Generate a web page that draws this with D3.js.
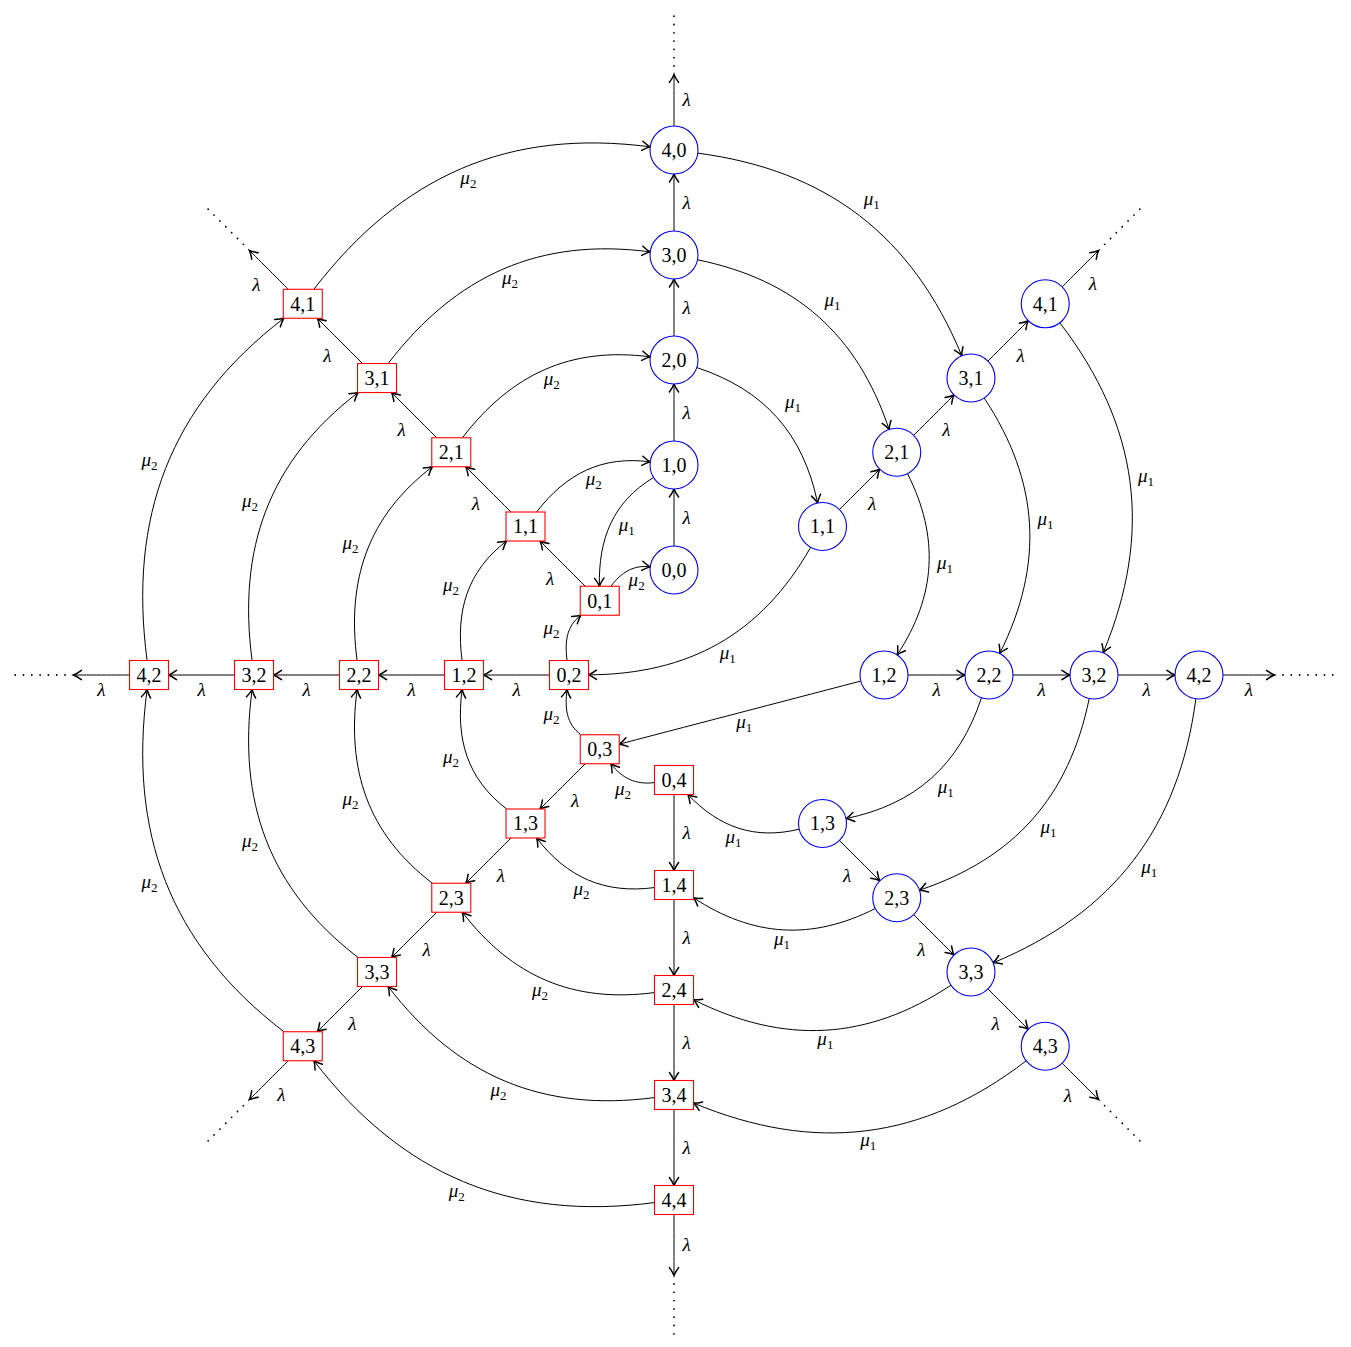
<!DOCTYPE html>
<html>
<head>
<meta charset="utf-8">
<script src="https://cdn.jsdelivr.net/npm/d3@7"></script>
<style>
  body { margin: 0; background: #fff; }
  text { font-family: "Liberation Serif", "DejaVu Serif", serif; }
</style>
</head>
<body>
<svg id="chart" width="1351" height="1347"></svg>
<script>
/* toestanden: blauw = cirkel, rood = vierkant */
var blueStates = ["0,0", "1,0", "2,0", "3,0", "4,0",
                  "1,1", "2,1", "3,1", "4,1",
                  "1,2", "2,2", "3,2", "4,2",
                  "1,3", "2,3", "3,3", "4,3"];
var redStates = ["0,1", "1,1", "2,1", "3,1", "4,1",
                 "0,2", "1,2", "2,2", "3,2", "4,2",
                 "0,3", "1,3", "2,3", "3,3", "4,3",
                 "0,4", "1,4", "2,4", "3,4", "4,4"];

/* lambda overgangen (rechte pijlen) */
var lambdaEdges = [
  ["b0,0", "b1,0"], ["b1,0", "b2,0"], ["b2,0", "b3,0"], ["b3,0", "b4,0"],
  ["b1,1", "b2,1"], ["b2,1", "b3,1"], ["b3,1", "b4,1"],
  ["b1,2", "b2,2"], ["b2,2", "b3,2"], ["b3,2", "b4,2"],
  ["b1,3", "b2,3"], ["b2,3", "b3,3"], ["b3,3", "b4,3"],
  ["r0,1", "r1,1"], ["r1,1", "r2,1"], ["r2,1", "r3,1"], ["r3,1", "r4,1"],
  ["r0,2", "r1,2"], ["r1,2", "r2,2"], ["r2,2", "r3,2"], ["r3,2", "r4,2"],
  ["r0,3", "r1,3"], ["r1,3", "r2,3"], ["r2,3", "r3,3"], ["r3,3", "r4,3"],
  ["r0,4", "r1,4"], ["r1,4", "r2,4"], ["r2,4", "r3,4"], ["r3,4", "r4,4"]
];
/* lambda naar buiten (met puntjes) */
var lambdaOpen = ["b4,0", "b4,1", "b4,2", "b4,3", "r4,1", "r4,2", "r4,3", "r4,4"];

/* mu1 overgangen */
var mu1Edges = [
  ["b4,0", "b3,1"], ["b3,0", "b2,1"], ["b2,0", "b1,1"], ["b1,0", "r0,1"],
  ["b4,1", "b3,2"], ["b3,1", "b2,2"], ["b2,1", "b1,2"], ["b1,1", "r0,2"],
  ["b4,2", "b3,3"], ["b3,2", "b2,3"], ["b2,2", "b1,3"], ["b1,2", "r0,3"],
  ["b4,3", "r3,4"], ["b3,3", "r2,4"], ["b2,3", "r1,4"], ["b1,3", "r0,4"]
];

/* mu2 overgangen */
var mu2Edges = [
  ["r4,1", "b4,0"], ["r3,1", "b3,0"], ["r2,1", "b2,0"], ["r1,1", "b1,0"], ["r0,1", "b0,0"],
  ["r4,2", "r4,1"], ["r3,2", "r3,1"], ["r2,2", "r2,1"], ["r1,2", "r1,1"], ["r0,2", "r0,1"],
  ["r4,3", "r4,2"], ["r3,3", "r3,2"], ["r2,3", "r2,2"], ["r1,3", "r1,2"], ["r0,3", "r0,2"],
  ["r4,4", "r4,3"], ["r3,4", "r3,3"], ["r2,4", "r2,3"], ["r1,4", "r1,3"], ["r0,4", "r0,3"]
];

var svg = d3.select("#chart");
var cx = 674, cy = 675;

/* straal per niveau en hoek per richting (8 richtingen) */
var rScale = d3.scaleLinear().domain([0, 5]).range([0, 525]);
var aScale = d3.scaleLinear().domain([0, 8]).range([0, 2 * Math.PI]);

var nodeR = 24, boxW = 39, boxH = 29;

svg.append("rect").attr("width", 1351).attr("height", 1347).attr("fill", "#fff");

svg.append("defs").append("marker")
    .attr("id", "arrow")
    .attr("markerUnits", "userSpaceOnUse")
    .attr("viewBox", "-10 -7 12 14")
    .attr("markerWidth", 12)
    .attr("markerHeight", 14)
    .attr("refX", 0)
    .attr("refY", 0)
    .attr("orient", "auto")
  .append("path")
    .attr("d", "M-8,-4.6 Q-3.2,-1.1 0,0 Q-3.2,1.1 -8,4.6")
    .attr("fill", "none")
    .attr("stroke", "#000")
    .attr("stroke-width", 1.5)
    .attr("stroke-linecap", "round");

function makeNode(color, s) {
  var p = s.split(","), k = +p[0], j = +p[1];
  var a = aScale(color == "b" ? j : 8 - j);
  var r = rScale(k + 1);
  return {id: color + s, color: color, label: s, a: a,
          x: cx + r * Math.sin(a), y: cy - r * Math.cos(a)};
}

var nodes = blueStates.map(function(s) { return makeNode("b", s); })
  .concat(redStates.map(function(s) { return makeNode("r", s); }));
var byId = {};
nodes.forEach(function(n) { byId[n.id] = n; });

/* punt op de rand van een knoop in richting th */
function border(n, th) {
  var dx = Math.cos(th), dy = Math.sin(th);
  if (n.color == "b") return [n.x + nodeR * dx, n.y + nodeR * dy];
  var t = Math.min(Math.abs(dx) > 1e-9 ? (boxW / 2) / Math.abs(dx) : 1e9,
                   Math.abs(dy) > 1e-9 ? (boxH / 2) / Math.abs(dy) : 1e9);
  return [n.x + t * dx, n.y + t * dy];
}

/* bocht zoals tikz bend: b > 0 buigt naar links van de rijrichting */
function curve(n1, n2, bendDeg) {
  var b = bendDeg * Math.PI / 180;
  var chord = Math.atan2(n2.y - n1.y, n2.x - n1.x);
  var outA = chord - b, inA = chord + Math.PI + b;
  var p0 = border(n1, outA), p3 = border(n2, inA);
  var d = Math.hypot(p3[0] - p0[0], p3[1] - p0[1]) * 0.3915;
  var p1 = [p0[0] + d * Math.cos(outA), p0[1] + d * Math.sin(outA)];
  var p2 = [p3[0] + d * Math.cos(inA), p3[1] + d * Math.sin(inA)];
  return [p0, p1, p2, p3];
}

function labelPos(c, side, ax, ay) {
  var m = [], t = [];
  for (var i = 0; i < 2; i++) {
    m[i] = (c[0][i] + 3 * c[1][i] + 3 * c[2][i] + c[3][i]) / 8;
    t[i] = 0.75 * (c[1][i] - c[0][i]) + 1.5 * (c[2][i] - c[1][i]) + 0.75 * (c[3][i] - c[2][i]);
  }
  var len = Math.hypot(t[0], t[1]);
  var nx = side * t[1] / len, ny = -side * t[0] / len;
  var s = Math.max(Math.abs(nx), Math.abs(ny));
  return [m[0] + nx / s * ax, m[1] + ny / s * ay];
}

var gEdges = svg.append("g");
var gLabels = svg.append("g");
var gNodes = svg.append("g");

function drawCurve(c) {
  var path = d3.path();
  path.moveTo(c[0][0], c[0][1]);
  path.bezierCurveTo(c[1][0], c[1][1], c[2][0], c[2][1], c[3][0], c[3][1]);
  gEdges.append("path")
    .attr("d", path.toString())
    .attr("fill", "none")
    .attr("stroke", "#000")
    .attr("stroke-width", 1)
    .attr("marker-end", "url(#arrow)");
}

function lambdaLabel(p) {
  gLabels.append("text")
    .attr("x", p[0]).attr("y", p[1] + 6)
    .attr("text-anchor", "middle")
    .attr("font-size", 19)
    .attr("font-style", "italic")
    .text("λ");
}

function muLabel(p, idx) {
  var t = gLabels.append("text")
    .attr("x", p[0]).attr("y", p[1] + 2)
    .attr("text-anchor", "middle")
    .attr("font-size", 19);
  t.append("tspan").attr("font-style", "italic").text("μ");
  t.append("tspan").attr("font-size", 13).attr("dy", 4).text(idx);
}

/* lambda pijlen */
lambdaEdges.forEach(function(e) {
  var n1 = byId[e[0]], n2 = byId[e[1]];
  var c = curve(n1, n2, 0);
  drawCurve(c);
  lambdaLabel(labelPos(c, n1.color == "b" ? -1 : 1, 12.5, 15));
});

lambdaOpen.forEach(function(id) {
  var n = byId[id];
  var ux = Math.sin(n.a), uy = -Math.cos(n.a);
  var th = Math.atan2(uy, ux);
  var p0 = border(n, th);
  var tip = [cx + rScale(5.72) * ux, cy + rScale(5.72) * uy];
  var c = [p0, p0, tip, tip];
  drawCurve(c);
  lambdaLabel(labelPos(c, n.color == "b" ? -1 : 1, 12.5, 15));
  gEdges.append("line")
    .attr("x1", cx + rScale(5.8) * ux).attr("y1", cy + rScale(5.8) * uy)
    .attr("x2", cx + rScale(6.34) * ux).attr("y2", cy + rScale(6.34) * uy)
    .attr("stroke", "#000")
    .attr("stroke-width", 1.8)
    .attr("stroke-linecap", "round")
    .attr("stroke-dasharray", "0 8.3");
});

/* mu1 bogen */
mu1Edges.forEach(function(e) {
  var n1 = byId[e[0]], n2 = byId[e[1]];
  var bend = 30;
  if (e[0] == "b1,2") bend = 0;
  if (e[0] == "b1,0") bend = -30;
  var c = curve(n1, n2, bend);
  drawCurve(c);
  muLabel(labelPos(c, 1, 16, 13), "1");
});

/* mu2 bogen */
mu2Edges.forEach(function(e) {
  var n1 = byId[e[0]], n2 = byId[e[1]];
  var c = curve(n1, n2, 30);
  drawCurve(c);
  muLabel(labelPos(c, n2.color == "b" ? -1 : 1, 16, 13), "2");
});

/* knopen */
var node = gNodes.selectAll(".node")
  .data(nodes)
  .enter().append("g")
    .attr("class", "node")
    .attr("transform", function(d) { return "translate(" + d.x + "," + d.y + ")"; });

node.filter(function(d) { return d.color == "b"; })
  .append("circle")
    .attr("r", nodeR)
    .attr("fill", "#fff")
    .attr("stroke", "#0000ff")
    .attr("stroke-width", 1.1);

node.filter(function(d) { return d.color == "r"; })
  .append("rect")
    .attr("x", -boxW / 2).attr("y", -boxH / 2)
    .attr("width", boxW).attr("height", boxH)
    .attr("fill", "#fff")
    .attr("stroke", "#ff0000")
    .attr("stroke-width", 1.1);

node.append("text")
    .attr("text-anchor", "middle")
    .attr("y", 6.8)
    .attr("font-size", 20)
    .text(function(d) { return d.label; });
</script>
</body>
</html>
